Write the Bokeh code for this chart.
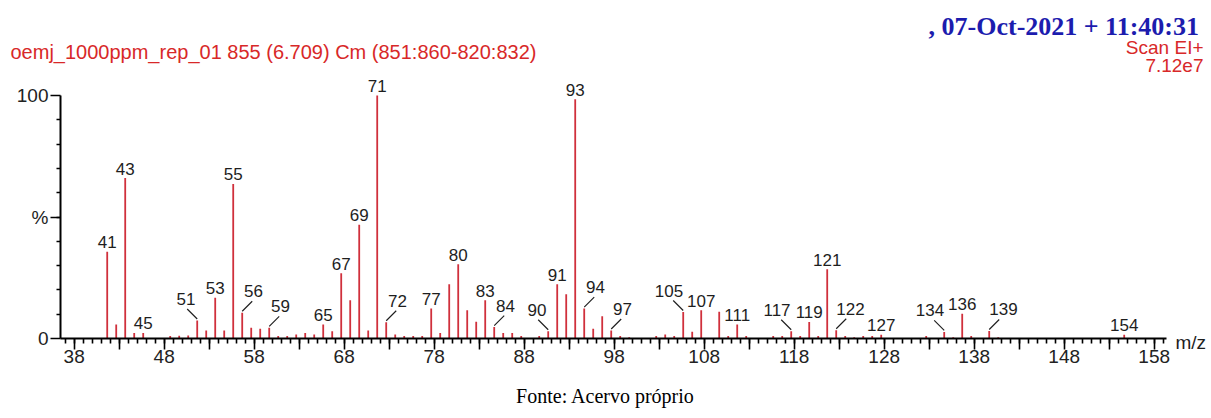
from bokeh.plotting import figure
from bokeh.layouts import column, row
from bokeh.models import Range1d, LinearAxis, FixedTicker, Label, ColumnDataSource
from bokeh.core.properties import value
from bokeh.embed import file_html
from bokeh.resources import INLINE

# ---------------- data ----------------
mz = [41, 42, 43, 44, 45, 48, 49, 50, 51, 52, 53, 54, 55, 56, 57, 58, 59, 60,
      61, 62, 63, 64, 65, 66, 67, 68, 69, 70, 71, 72, 73, 74, 75, 76, 77, 78,
      79, 80, 81, 82, 83, 84, 85, 86, 87, 89, 90, 91, 92, 93, 94, 95, 96, 97,
      98, 99, 102, 103, 104, 105, 106, 107, 109, 110, 111, 112, 115, 116, 117,
      118, 119, 120, 121, 122, 123, 124, 125, 126, 127, 132, 134, 135, 136,
      137, 139, 140, 154]
intensity = [35.7, 5.8, 66.0, 2.3, 2.3, 1.0, 1.1, 1.2, 7.4, 3.3, 16.8, 3.3,
             63.6, 10.6, 4.4, 4.0, 4.4, 1.0, 1.0, 1.6, 2.3, 1.6, 5.8, 3.0,
             26.9, 15.7, 46.8, 3.3, 100.0, 6.7, 1.6, 1.0, 1.0, 1.0, 12.3, 2.3,
             22.3, 30.6, 11.6, 6.9, 15.7, 4.7, 2.3, 2.3, 1.0, 1.0, 3.0, 22.3,
             18.2, 98.5, 12.3, 4.0, 9.2, 3.3, 1.0, 0.5, 1.0, 1.6, 1.0, 10.9,
             2.8, 11.6, 11.0, 1.0, 5.8, 1.0, 1.0, 1.0, 3.0, 1.0, 6.8, 1.0,
             28.5, 3.4, 1.0, 0.5, 1.0, 1.0, 1.5, 1.0, 2.7, 0.5, 10.2, 1.0,
             3.1, 0.5, 1.5]

labels_plain = [41, 43, 45, 53, 55, 65, 67, 69, 71, 77, 80, 83, 91, 93, 107,
                111, 119, 121, 127, 136, 154]
labels_leader = [51, 56, 59, 72, 84, 90, 94, 97, 105, 117, 122, 134, 139]
leader_side = [-1, 1, 1, 1, 1, -1, 1, 1, -1, -1, 1, -1, 1]

x_tick_labels = list(range(38, 159, 10))
y_tick_labels = {0: "0", 50: "%", 100: "100"}

title_text = "oemj_1000ppm_rep_01 855 (6.709) Cm (851:860-820:832)"
date_text = ",  07-Oct-2021 + 11:40:31"
scan_text = "Scan EI+"
tic_text = "7.12e7"
x_unit_text = "m/z"
footer_text = "Fonte: Acervo próprio"

# ---------------- layout ----------------
TOTAL_W = 1211
HEAD_H = 76
MAIN_W, MAIN_H = 1172, 306
ML, MR, MB = 60, 6, 44
FOOT_H = 418 - HEAD_H - MAIN_H
frame_w = MAIN_W - ML - MR
frame_h = MAIN_H - MB
px_per_mz = 9.0
x0 = 35.81
x1 = x0 + frame_w / px_per_mz
px_per_pct = 2.43
y_end = frame_h / px_per_pct
tick_shift = 0.67

RED = "#d82828"
PEAK = "#d0303c"
INK = "#1e1e1e"


def blank_fig(w, h):
    f = figure(width=w, height=h, x_range=Range1d(0, w), y_range=Range1d(0, h),
               output_backend="svg", toolbar_location=None,
               x_axis_location=None, y_axis_location=None,
               min_border_left=0, min_border_right=0, min_border_top=0,
               min_border_bottom=0)
    f.outline_line_color = None
    f.grid.visible = False
    return f


def add_label(f, text, x, y, align, color, font, size, style="normal"):
    f.add_layout(Label(x=x, y=y, x_units="screen", y_units="screen",
                       text=text, text_align=align, text_baseline="middle",
                       text_color=color, text_font=font,
                       text_font_size=size, text_font_style=style))


# header (page y 0..HEAD_H)
head = blank_fig(TOTAL_W, HEAD_H)
add_label(head, date_text, 1205, HEAD_H - 26, "right", "#1c1cae",
          "Liberation Serif", "26px", "bold")
add_label(head, title_text, 10, HEAD_H - 51, "left", RED,
          "Liberation Sans", "20px")
add_label(head, scan_text, 1203, HEAD_H - 47, "right", RED,
          "Liberation Sans", "19px")
add_label(head, tic_text, 1203, HEAD_H - 65, "right", RED,
          "Liberation Sans", "19px")

# main spectrum
height_of = dict(zip(mz, intensity))

p = figure(width=MAIN_W, height=MAIN_H, x_range=Range1d(x0, x1),
           y_range=Range1d(0, y_end), output_backend="svg",
           toolbar_location=None, x_axis_location=None,
           min_border_left=ML, min_border_right=MR, min_border_top=0,
           min_border_bottom=MB)
p.outline_line_color = None
p.grid.visible = False

src = ColumnDataSource(dict(x=mz, y0=[0] * len(mz), y1=intensity))
p.segment(x0="x", y0="y0", x1="x", y1="y1", source=src,
          line_color=PEAK, line_width=1.8)

lp = ColumnDataSource(dict(x=labels_plain,
                           y=[height_of[m] for m in labels_plain],
                           t=[str(m) for m in labels_plain]))
p.text(x="x", y="y", text="t", source=lp, y_offset=-9.5,
       text_align="center", text_baseline="middle",
       text_font=value("Liberation Sans"), text_font_size="17px",
       text_color=INK)

lx0, ly0, lx1, ly1, lxo = [], [], [], [], []
for m, s in zip(labels_leader, leader_side):
    h = height_of[m]
    lx0.append(m)
    ly0.append(h + 1.5 / px_per_pct)
    lx1.append(m + s * 10 / px_per_mz)
    ly1.append(h + 11.5 / px_per_pct)
    lxo.append(s * (5.5 + 2.9 * len(str(m))))
p.segment(x0=lx0, y0=ly0, x1=lx1, y1=ly1, line_color=INK, line_width=1.2)
ll = ColumnDataSource(dict(x=labels_leader,
                           y=[height_of[m] for m in labels_leader],
                           t=[str(m) for m in labels_leader], xo=lxo))
p.text(x="x", y="y", text="t", source=ll, x_offset="xo", y_offset=-21.5,
       text_align="center", text_baseline="middle",
       text_font=value("Liberation Sans"), text_font_size="17px",
       text_color=INK)

p.extra_x_ranges = {"tick": Range1d(x0 + tick_shift, x1 + tick_shift)}
xaxis = LinearAxis(x_range_name="tick",
                   ticker=FixedTicker(ticks=list(range(38, 159, 5)),
                                      minor_ticks=list(range(36, 160))),
                   major_label_overrides={t: "" for t in range(43, 159, 10)})
p.add_layout(xaxis, "below")

yaxis = p.yaxis[0]
yaxis.ticker = FixedTicker(ticks=list(y_tick_labels.keys()),
                           minor_ticks=list(range(10, 100, 10)))
yaxis.major_label_overrides = {k: v for k, v in y_tick_labels.items()}
yaxis.bounds = (0, 100)

for ax in (xaxis, yaxis):
    ax.axis_line_width = 2
    ax.axis_line_color = "black"
    ax.major_tick_line_color = "black"
    ax.minor_tick_line_color = "black"
    ax.major_tick_line_width = 1.6
    ax.minor_tick_line_width = 1.6
    ax.major_tick_in = 0
    ax.minor_tick_in = 0
    ax.major_label_text_font = "Liberation Sans"
    ax.major_label_text_font_size = "19px"
    ax.major_label_text_color = "#222222"
xaxis.major_tick_out = 11
xaxis.minor_tick_out = 5
xaxis.major_label_standoff = 0
yaxis.major_tick_out = 10
yaxis.minor_tick_out = 4
yaxis.major_label_standoff = 2

# right strip with the m/z unit (page x MAIN_W..TOTAL_W)
side = blank_fig(TOTAL_W - MAIN_W, MAIN_H)
side.frame_align = False
add_label(side, x_unit_text, 3, (HEAD_H + MAIN_H) - 342, "left", INK,
          "Liberation Sans", "19px")

# footer
foot = blank_fig(TOTAL_W, FOOT_H)
add_label(foot, footer_text, 605, FOOT_H - 13, "center", "black",
          "Liberation Serif", "20px")

layout = column(head, row(p, side), foot)
open("out.html", "w").write(file_html(layout, INLINE))
